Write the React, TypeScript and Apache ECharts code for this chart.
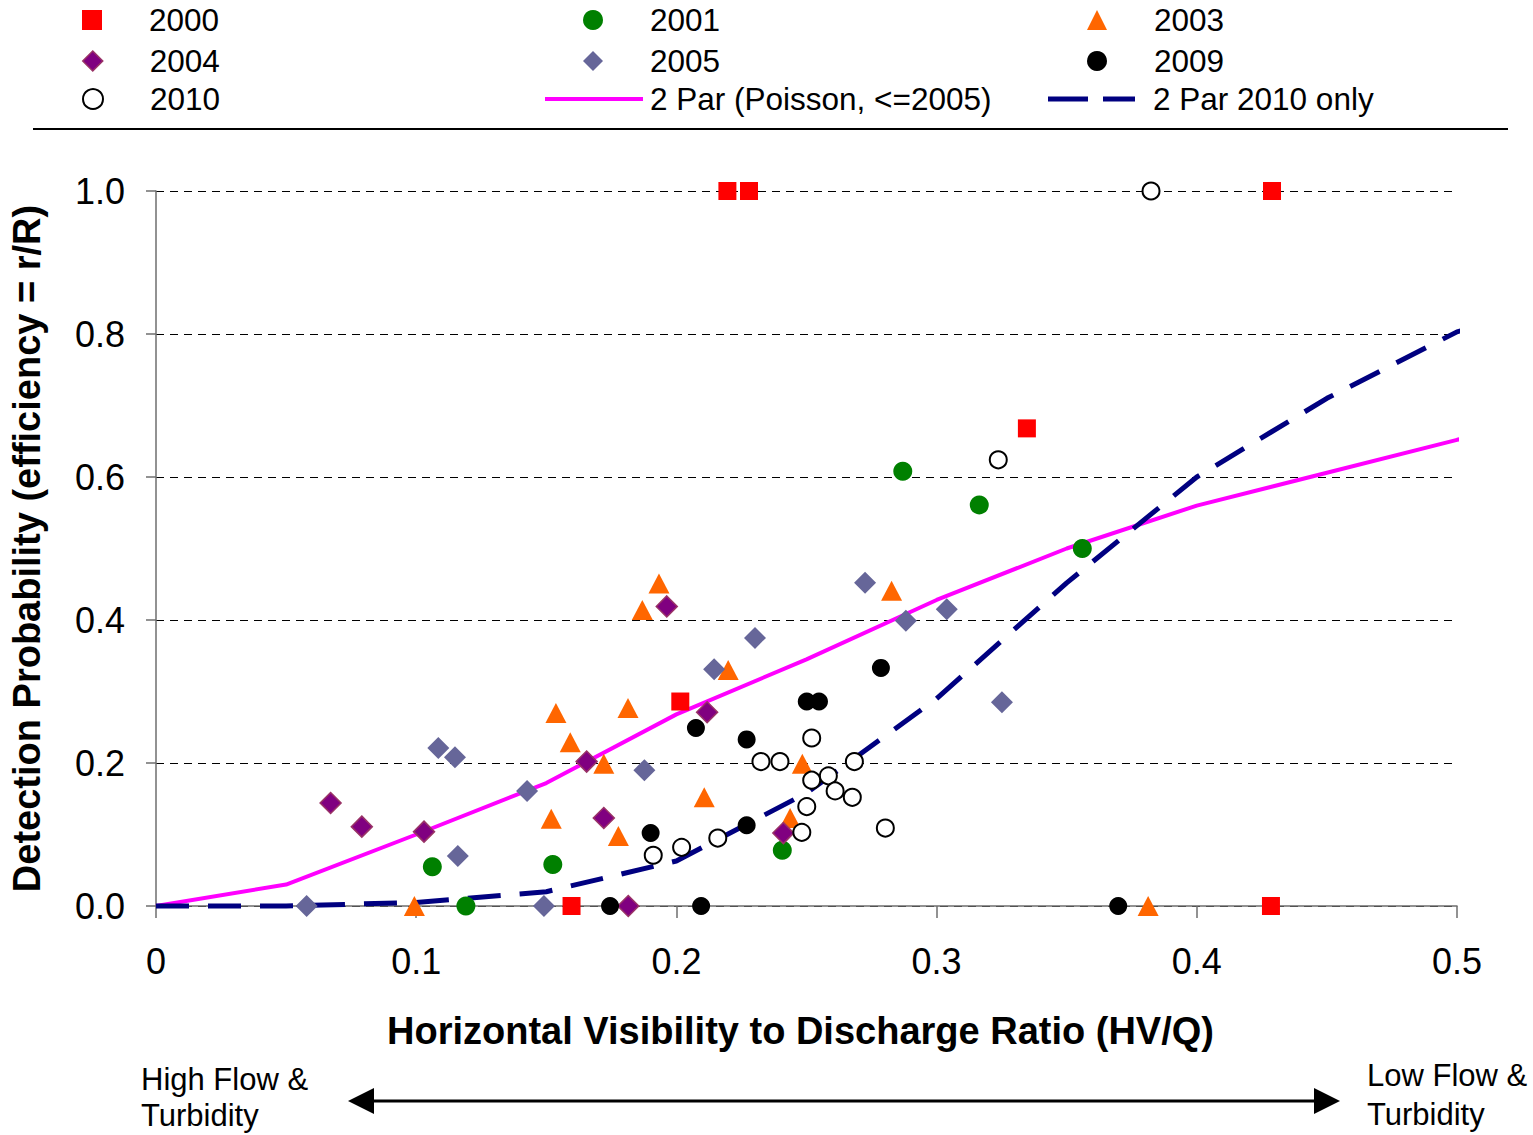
import React, { useEffect, useRef } from "react";
import * as echarts from "echarts";

// ---- data ----
const x2000 = [0.2196, 0.2279, 0.4289, 0.3347, 0.2015, 0.1597, 0.4285];
const y2000 = [1.0, 1.0, 1.0, 0.668, 0.286, 0, 0];

const x2001 = [0.287, 0.3164, 0.356, 0.1062, 0.1525, 0.1191, 0.2407];
const y2001 = [0.608, 0.561, 0.5, 0.055, 0.058, 0, 0.078];

const x2003 = [0.0993, 0.1519, 0.1537, 0.1592, 0.1721, 0.1777, 0.1814, 0.1869, 0.1933, 0.2107, 0.2199, 0.2437, 0.2484, 0.2827, 0.3813];
const y2003 = [0, 0.122, 0.27, 0.229, 0.199, 0.098, 0.277, 0.414, 0.451, 0.152, 0.33, 0.123, 0.199, 0.441, 0];

const x2004 = [0.0671, 0.0791, 0.103, 0.1655, 0.1721, 0.1815, 0.1963, 0.2118, 0.2411];
const y2004 = [0.144, 0.111, 0.104, 0.202, 0.123, 0, 0.419, 0.271, 0.102];

const x2005 = [0.0579, 0.1085, 0.1149, 0.116, 0.1426, 0.1491, 0.1877, 0.2145, 0.2302, 0.2725, 0.2882, 0.3039, 0.3251];
const y2005 = [0, 0.221, 0.208, 0.07, 0.161, 0, 0.19, 0.331, 0.375, 0.452, 0.399, 0.415, 0.285];

const x2009 = [0.1745, 0.2095, 0.1901, 0.2075, 0.227, 0.227, 0.2501, 0.2548, 0.2786, 0.3698];
const y2009 = [0, 0, 0.102, 0.249, 0.233, 0.113, 0.286, 0.286, 0.333, 0];

const x2010 = [0.1911, 0.202, 0.2159, 0.2325, 0.2398, 0.252, 0.252, 0.2584, 0.261, 0.2676, 0.2684, 0.2501, 0.2482, 0.2803, 0.3237, 0.3824];
const y2010 = [0.071, 0.082, 0.095, 0.202, 0.202, 0.235, 0.176, 0.182, 0.161, 0.152, 0.202, 0.139, 0.103, 0.109, 0.624, 1.0];

const xCurve = [0, 0.05, 0.1, 0.15, 0.2, 0.25, 0.3, 0.35, 0.4, 0.45, 0.5, 0.505];
const yPoisson = [0, 0.03, 0.1, 0.172, 0.268, 0.345, 0.428, 0.5, 0.56, 0.606, 0.652, 0.656];
const y2010Only = [0, 0, 0.005, 0.02, 0.063, 0.158, 0.29, 0.452, 0.6, 0.71, 0.803, 0.808];

const yTicks = [0, 0.2, 0.4, 0.6, 0.8, 1.0];
const xTicks = [0, 0.1, 0.2, 0.3, 0.4, 0.5];

const FONT = "'Liberation Sans', Arial, sans-serif";

const zip = (xs: number[], ys: number[]) => xs.map((x, i) => [x, ys[i]]);

export default function App() {
  const ref = useRef<HTMLDivElement>(null);

  useEffect(() => {
    if (!ref.current) return;
    const chart = echarts.init(ref.current, null, { renderer: "svg" });

    const scatter = (name: string, xs: number[], ys: number[], symbol: string, size: any, itemStyle: any) => ({
      name,
      type: "scatter",
      data: zip(xs, ys),
      symbol,
      symbolSize: size,
      itemStyle,
      z: 5,
    });

    const legendText = (pad: number) => ({
      fontFamily: FONT,
      fontSize: 31.5,
      color: "#000",
      padding: [0, 0, 0, pad],
    });

    const scatterLegend = (name: string, cx: number, cy: number, itemStyle: any) => ({
      data: [{ name, itemStyle }],
      left: cx - 10,
      top: cy - 17,
      padding: 0,
      itemWidth: 20,
      itemHeight: 20,
      selectedMode: false,
      textStyle: legendText(42),
    });

    const option: any = {
      animation: false,
      backgroundColor: "#fff",
      grid: { left: 156, right: 76, top: 191, bottom: 229, containLabel: false },
      legend: [
        scatterLegend("2000", 92, 21, { color: "#FF0000" }),
        scatterLegend("2001", 593, 21, { color: "#008000" }),
        scatterLegend("2003", 1097, 21, { color: "#FF6600" }),
        scatterLegend("2004", 92, 62, { color: "#800080", borderColor: "#993366", borderWidth: 1.5 }),
        scatterLegend("2005", 593, 62, { color: "#666699" }),
        scatterLegend("2009", 1097, 62, { color: "#000000" }),
        scatterLegend("2010", 92, 100, { color: "#ffffff", borderColor: "#000000", borderWidth: 2 }),
        {
          data: [{ name: "2 Par (Poisson, <=2005)", icon: "rect", itemStyle: { color: "#FF00FF" } }],
          left: 545,
          top: 83,
          padding: 0,
          itemWidth: 98,
          itemHeight: 4,
          selectedMode: false,
          textStyle: legendText(2),
        },
        {
          data: [
            {
              name: "2 Par 2010 only",
              icon: "path://M0,0 H40 V5 H0 Z M55,0 H87 V5 H55 Z",
              itemStyle: { color: "#000080" },
            },
          ],
          left: 1048,
          top: 83,
          padding: 0,
          itemWidth: 87,
          itemHeight: 5,
          selectedMode: false,
          textStyle: legendText(13),
        },
      ],
      xAxis: {
        type: "value",
        min: 0,
        max: 0.5,
        interval: 0.1,
        name: "Horizontal Visibility to Discharge Ratio (HV/Q)",
        nameLocation: "middle",
        nameGap: 106,
        nameTextStyle: { fontFamily: FONT, fontSize: 38, fontWeight: "bold", color: "#000", padding: [0, 12, 0, 0] },
        axisLine: { show: true, onZero: false, lineStyle: { color: "#6e6e6e", width: 1.5 } },
        axisTick: { show: true, length: 12, inside: false, lineStyle: { color: "#6e6e6e", width: 1.5 } },
        axisLabel: {
          margin: 37,
          fontFamily: FONT,
          fontSize: 36,
          color: "#000",
          formatter: (v: number) => {
            const t = xTicks.find((k) => Math.abs(k - v) < 1e-9);
            if (t === undefined) return "";
            return t === 0 ? "0" : t.toFixed(1);
          },
        },
        splitLine: { show: false },
      },
      yAxis: {
        type: "value",
        min: 0,
        max: 1,
        interval: 0.2,
        name: "Detection Probability (efficiency = r/R)",
        nameLocation: "middle",
        nameRotate: 90,
        nameGap: 110,
        nameTextStyle: { fontFamily: FONT, fontSize: 38, fontWeight: "bold", color: "#000" },
        axisLine: { show: true, lineStyle: { color: "#6e6e6e", width: 1.5 } },
        axisTick: { show: true, length: 10, lineStyle: { color: "#6e6e6e", width: 1.5 } },
        axisLabel: {
          margin: 31,
          fontFamily: FONT,
          fontSize: 36,
          color: "#000",
          formatter: (v: number) => {
            const t = yTicks.find((k) => Math.abs(k - v) < 1e-9);
            return t === undefined ? "" : t.toFixed(1);
          },
        },
        splitLine: { show: true, lineStyle: { color: "#000", width: 1, type: [8, 6] } },
      },
      series: [
        {
          name: "2 Par (Poisson, <=2005)",
          type: "line",
          data: zip(xCurve, yPoisson),
          symbol: "none",
          clip: false,
          lineStyle: { color: "#FF00FF", width: 4 },
          itemStyle: { color: "#FF00FF" },
          z: 3,
        },
        {
          name: "2 Par 2010 only",
          type: "line",
          data: zip(xCurve, y2010Only),
          symbol: "none",
          clip: false,
          lineStyle: { color: "#000080", width: 5, type: [33, 19] },
          itemStyle: { color: "#000080" },
          z: 3,
        },
        scatter("2000", x2000, y2000, "rect", 18, { color: "#FF0000", opacity: 1 }),
        scatter("2001", x2001, y2001, "circle", 19, { color: "#008000", opacity: 1 }),
        scatter("2003", x2003, y2003, "triangle", [21, 20], { color: "#FF6600", opacity: 1 }),
        scatter("2004", x2004, y2004, "diamond", 21, { color: "#800080", borderColor: "#993366", borderWidth: 1.5, opacity: 1 }),
        scatter("2005", x2005, y2005, "diamond", 22, { color: "#666699", opacity: 1 }),
        scatter("2009", x2009, y2009, "circle", 18, { color: "#000000", opacity: 1 }),
        scatter("2010", x2010, y2010, "circle", 17, { color: "#ffffff", borderColor: "#000000", borderWidth: 2, opacity: 1 }),
      ],
      graphic: [
        { type: "line", shape: { x1: 33, y1: 129, x2: 1508, y2: 129 }, style: { stroke: "#000", lineWidth: 2 } },
        { type: "text", x: 141, y: 1079, style: { text: "High Flow &", fontFamily: FONT, fontSize: 31, fill: "#000", verticalAlign: "middle" } },
        { type: "text", x: 141, y: 1115, style: { text: "Turbidity", fontFamily: FONT, fontSize: 31, fill: "#000", verticalAlign: "middle" } },
        { type: "text", x: 1367, y: 1075, style: { text: "Low Flow &", fontFamily: FONT, fontSize: 31, fill: "#000", verticalAlign: "middle" } },
        { type: "text", x: 1367, y: 1114, style: { text: "Turbidity", fontFamily: FONT, fontSize: 31, fill: "#000", verticalAlign: "middle" } },
        { type: "line", shape: { x1: 370, y1: 1101, x2: 1318, y2: 1101 }, style: { stroke: "#000", lineWidth: 3 } },
        { type: "polygon", shape: { points: [[348, 1101], [374, 1088], [374, 1114]] }, style: { fill: "#000" } },
        { type: "polygon", shape: { points: [[1340, 1101], [1314, 1088], [1314, 1114]] }, style: { fill: "#000" } },
      ],
    };

    chart.setOption(option);
    return () => chart.dispose();
  }, []);

  return (
    <div
      ref={ref}
      style={{ position: "absolute", left: 0, top: 0, width: 1533, height: 1135, background: "#fff" }}
    />
  );
}
